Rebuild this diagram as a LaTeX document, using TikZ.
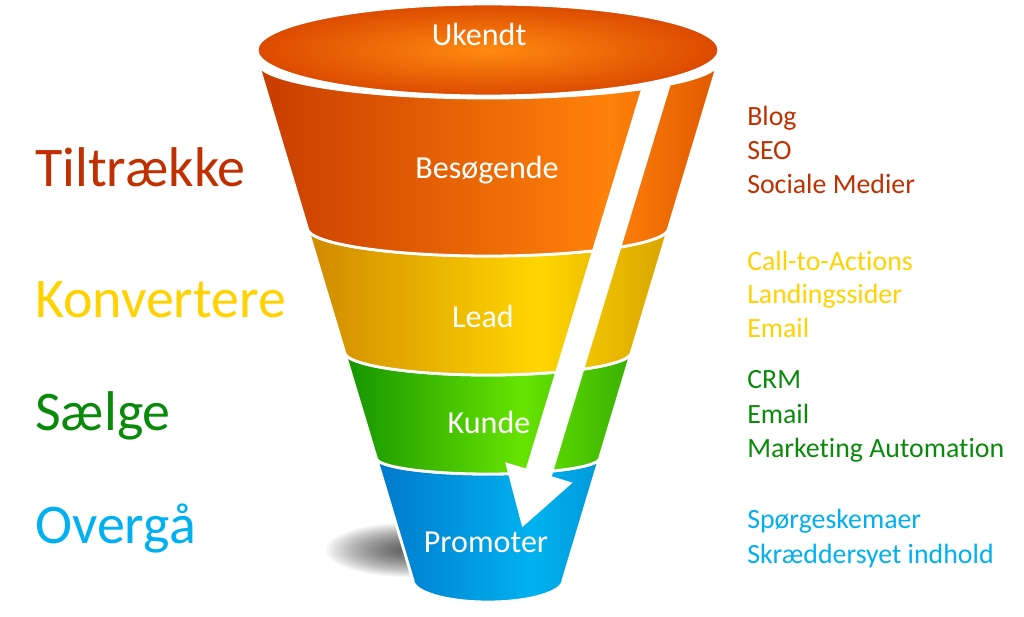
\documentclass[tikz,border=0pt]{standalone}
\usepackage{fontspec}
\setmainfont{Carlito}[Ligatures=NoCommon]
\usetikzlibrary{arrows.meta}

\definecolor{orL}{HTML}{C83C00}
\definecolor{orM}{HTML}{FF820A}
\definecolor{orR}{HTML}{E05800}
\definecolor{yeL}{HTML}{D08A00}
\definecolor{yeM}{HTML}{FFD600}
\definecolor{yeR}{HTML}{D8A400}
\definecolor{grL}{HTML}{169400}
\definecolor{grM}{HTML}{66E400}
\definecolor{grR}{HTML}{38B000}
\definecolor{blL}{HTML}{0078CC}
\definecolor{blM}{HTML}{00B2F0}
\definecolor{blR}{HTML}{0098D8}
\definecolor{topIn}{HTML}{FF8A10}
\definecolor{topOut}{HTML}{DC4A00}
\definecolor{txtRed}{HTML}{C03000}
\definecolor{txtYellow}{HTML}{FFD200}
\definecolor{txtGreen}{HTML}{0A8A0A}
\definecolor{txtBlue}{HTML}{00B0F0}

\pgfdeclarehorizontalshading{orangeband}{100bp}{color(0bp)=(orL); color(25bp)=(orL); color(63bp)=(orM); color(75bp)=(orR); color(100bp)=(orR)}
\pgfdeclarehorizontalshading{yellowband}{100bp}{color(0bp)=(yeL); color(25bp)=(yeL); color(57bp)=(yeM); color(75bp)=(yeR); color(100bp)=(yeR)}
\pgfdeclarehorizontalshading{greenband}{100bp}{color(0bp)=(grL); color(25bp)=(grL); color(56bp)=(grM); color(75bp)=(grR); color(100bp)=(grR)}
\pgfdeclarehorizontalshading{blueband}{100bp}{color(0bp)=(blL); color(25bp)=(blL); color(60bp)=(blM); color(75bp)=(blR); color(100bp)=(blR)}

\tikzset{
    band/.style={draw=white, line width=2pt},
    stage/.style={anchor=base, inner sep=0, text=white, font=\fontsize{22.8}{27}\selectfont},
    phase/.style={anchor=base west, inner sep=0, font=\fontsize{39.8}{48}\selectfont},
    tool/.style={anchor=base west, inner sep=0, font=\fontsize{19.8}{24}\selectfont},
    flow/.style={white, line width=19.2pt, -{Triangle[length=41.3pt, width=47pt]}}
}

\begin{document}
\begin{tikzpicture}[x=0.025cm, y=-0.025cm]
        \useasboundingbox (0,0) rectangle (1024,617);

        \foreach \k in {0,...,24}
            \fill[black, opacity=0.035] (408,550) ellipse[x radius={82-3*\k}, y radius={27-1*\k}];

        \shadedraw[shading=blueband, band] (376.3,458) -- (412.9,580) arc[start angle=180, end angle=0, x radius=75.1, y radius=22] -- (599.7,458) arc[start angle=0, end angle=180, x radius=111.7, y radius=16] -- cycle;
        \shadedraw[shading=greenband, band] (344.5,352) -- (376.3,458) arc[start angle=180, end angle=0, x radius=111.7, y radius=16] -- (631.5,352) arc[start angle=0, end angle=180, x radius=143.5, y radius=23] -- cycle;
        \shadedraw[shading=yellowband, band] (307.3,228) -- (344.5,352) arc[start angle=180, end angle=0, x radius=143.5, y radius=23] -- (668.7,228) arc[start angle=0, end angle=180, x radius=180.7, y radius=28] -- cycle;
        \shadedraw[shading=orangeband, band] (257.5,62) -- (307.3,228) arc[start angle=180, end angle=0, x radius=180.7, y radius=28] -- (718.5,62) arc[start angle=0, end angle=180, x radius=230.5, y radius=36] -- cycle;

        \coordinate (tail) at (661,70);
        \coordinate (tip) at (522,528);
        \draw[flow] (tail) -- (tip);

        \shadedraw[inner color=topIn, outer color=topOut, band] (488,50) ellipse[x radius=231, y radius=46];

        \node[stage] (ukendt) at (479,46) {Ukendt};
        \node[stage] (besoegende) at (487,178) {Besøgende};
        \node[stage] (lead) at (483,327) {Lead};
        \node[stage] (kunde) at (489,433) {Kunde};
        \node[stage] (promoter) at (486,552) {Promoter};

        \node[phase, text=txtRed] (tiltraekke) at (35,187) {Tiltrække};
        \node[phase, text=txtYellow] (konvertere) at (35,317) {Konvertere};
        \node[phase, text=txtGreen] (saelge) at (35,430) {Sælge};
        \node[phase, text=txtBlue] (overgaa) at (35,543) {Overgå};

        \node[tool, text=txtRed] (blog) at (747,126) {Blog};
        \node[tool, text=txtRed] (seo) at (747,160) {SEO};
        \node[tool, text=txtRed] (sociale) at (747,193) {Sociale Medier};
        \node[tool, text=txtYellow] (cta) at (747,270) {Call-to-Actions};
        \node[tool, text=txtYellow] (landing) at (747,303) {Landingssider};
        \node[tool, text=txtYellow] (emailA) at (747,337) {Email};
        \node[tool, text=txtGreen] (crm) at (747,388) {CRM};
        \node[tool, text=txtGreen] (emailB) at (747,423) {Email};
        \node[tool, text=txtGreen] (automation) at (747,457) {Marketing Automation};
        \node[tool, text=txtBlue] (spoerge) at (747,528) {Spørgeskemaer};
        \node[tool, text=txtBlue] (indhold) at (747,563) {Skræddersyet indhold};
    \end{tikzpicture}
\end{document}
